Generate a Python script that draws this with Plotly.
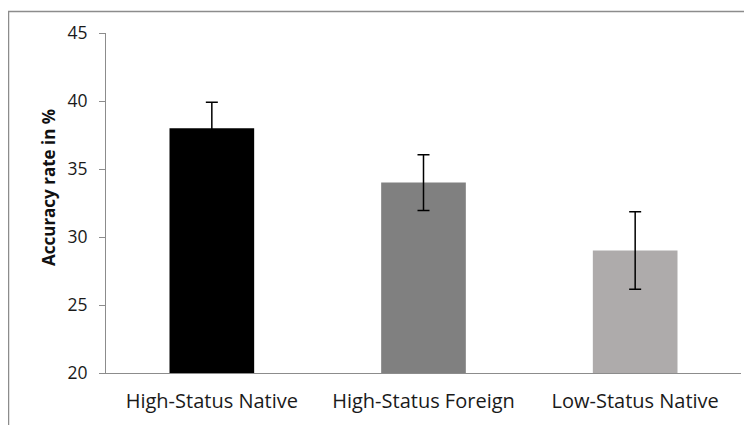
import plotly.graph_objects as go

categories = ["High-Status Native", "High-Status Foreign", "Low-Status Native"]
values = [38.0, 34.0, 29.0]
errors = [1.9, 2.05, 2.85]
colors = ["#000000", "#808080", "#AEABAB"]
y_ticks = [20, 25, 30, 35, 40, 45]

fig = go.Figure()
fig.add_trace(go.Bar(
    x=categories, y=values,
    marker=dict(color=colors, line=dict(width=0)),
    error_y=dict(type="data", array=errors, visible=True, color="#000000", thickness=1.5, width=6),
    width=0.4,
))

# page body has an 8px margin: figure coords = screen coords - 8
OFF = 8
W, H = 752 - OFF, 425 - OFF
L, T = 106 - OFF, 33 - OFF
R = W - (741 - OFF)
B = H - (373 - OFF)
pw, ph = W - L - R, H - T - B

def px(xs):
    return (xs - OFF - L) / pw

def py(ys):
    return (H - B - (ys - OFF)) / ph

fig.update_layout(
    width=W, height=H,
    margin=dict(l=L, r=R, t=T, b=B, autoexpand=False),
    paper_bgcolor="white", plot_bgcolor="white",
    font=dict(family="Open Sans, sans-serif", size=17, color="#1a1a1a"),
    showlegend=False,
    xaxis=dict(showline=True, linecolor="#8c8c8c", linewidth=1, ticks="", showgrid=False,
               tickfont=dict(size=20), ticklabelstandoff=10),
    yaxis=dict(range=[20, 45], tickvals=y_ticks, showline=True, linecolor="#8c8c8c", linewidth=1,
               ticks="outside", ticklen=6, tickcolor="#8c8c8c", showgrid=False, zeroline=False,
               tickfont=dict(size=17.5), ticklabelstandoff=8),
    annotations=[dict(
        text="<b>Accuracy rate in %</b>", textangle=-90, xref="paper", yref="paper",
        x=px(48), y=py(188), showarrow=False,
        font=dict(size=17, color="#111111"), xanchor="center", yanchor="middle",
    )],
    shapes=[dict(
        type="rect", xref="paper", yref="paper",
        x0=px(8.5), x1=px(780),
        y0=py(460), y1=py(11.5),
        line=dict(color="#8c8c8c", width=1.5), fillcolor="rgba(0,0,0,0)", layer="below",
    )],
)

fig.write_html("out.html")
